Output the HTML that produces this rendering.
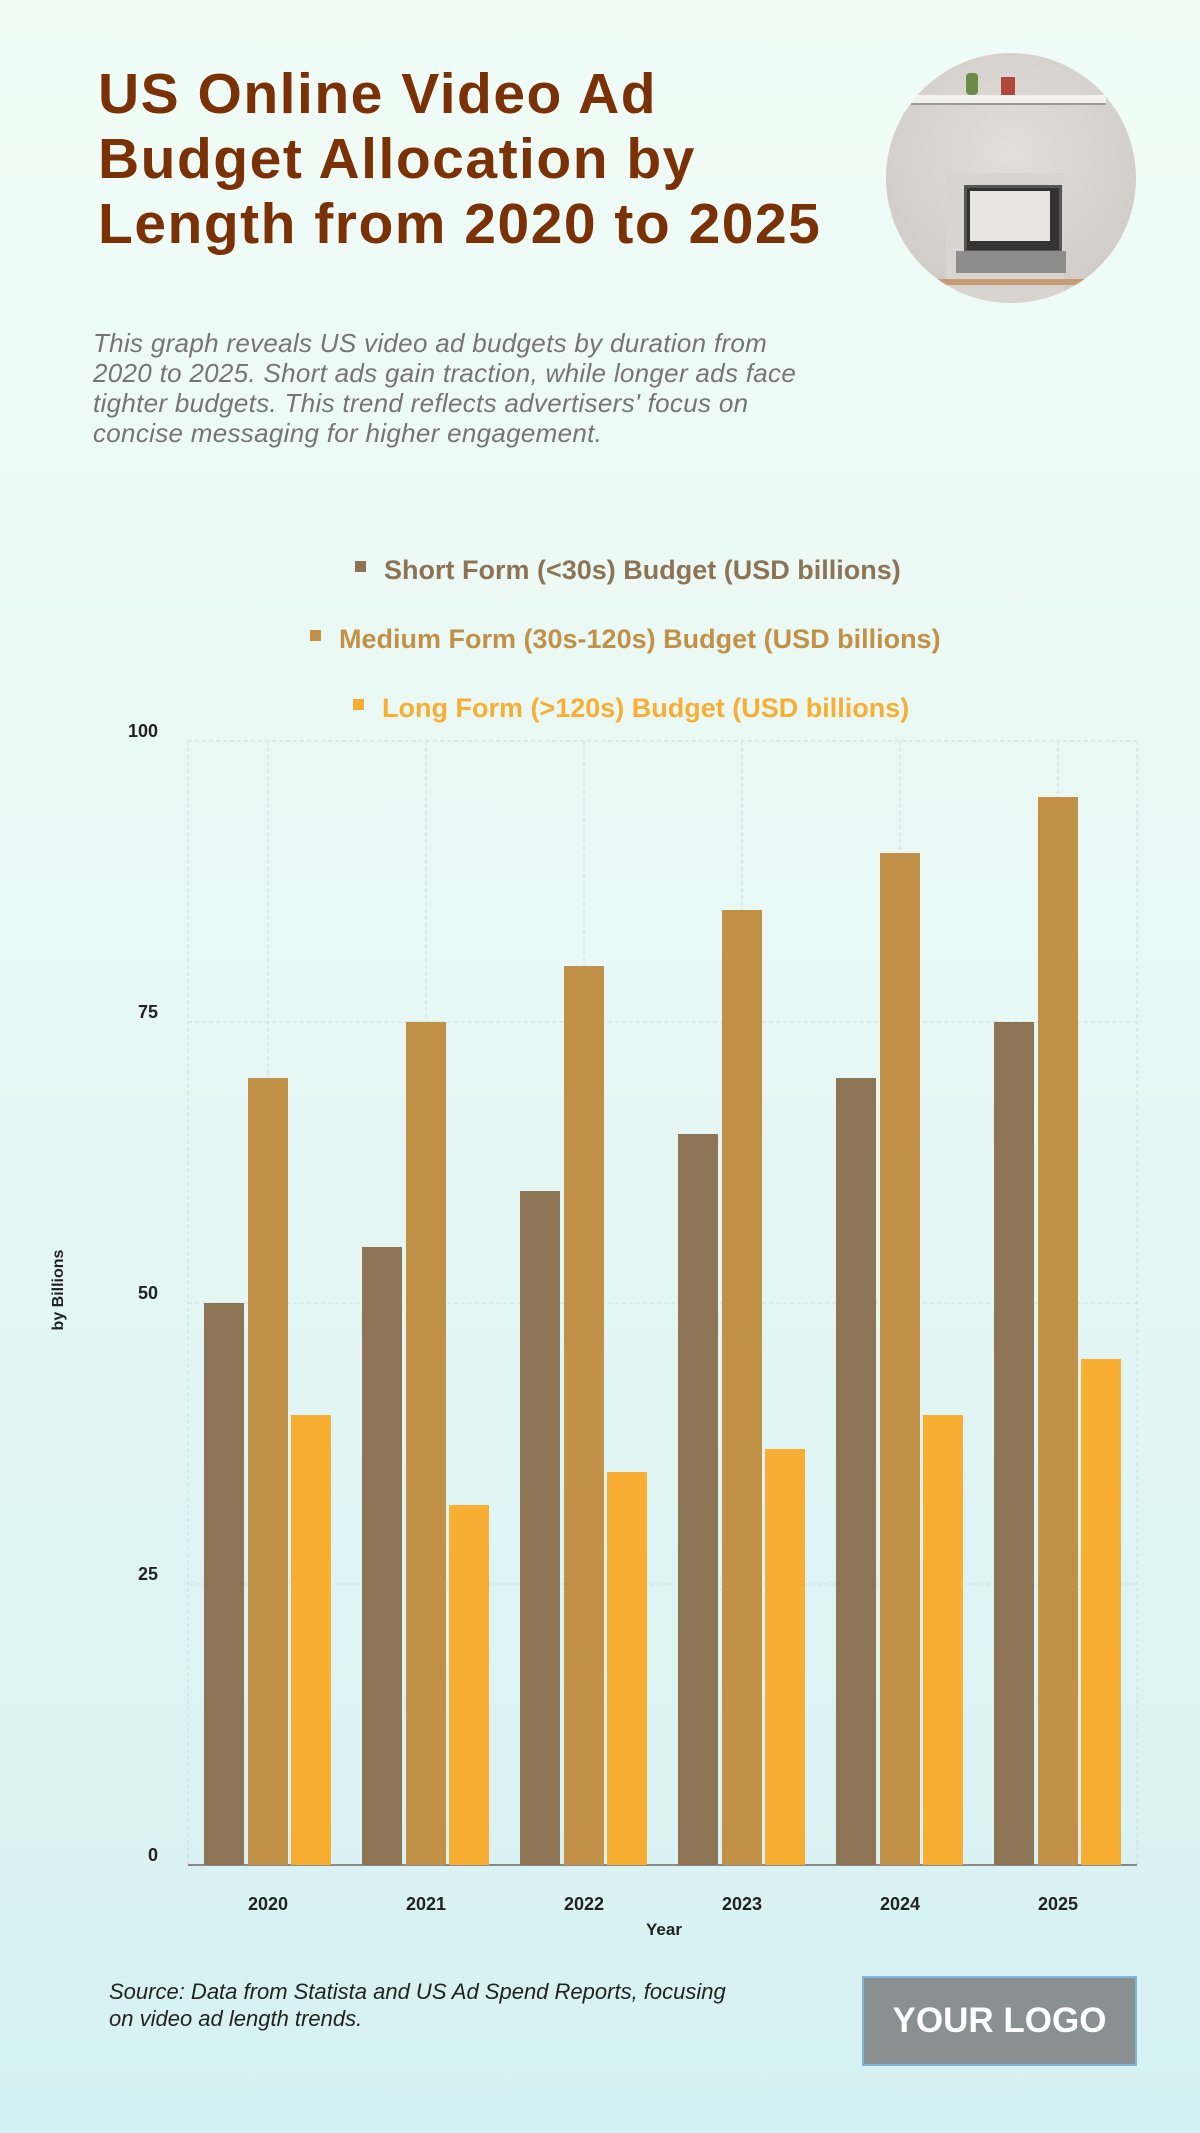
<!DOCTYPE html>
<html><head><meta charset="utf-8"><style>
html,body{margin:0;padding:0}
body{width:1200px;height:2133px;background:linear-gradient(180deg,#f1fcf7 0%,#e9f8f4 40%,#d6f1f3 100%);font-family:"Liberation Sans",sans-serif;position:relative;overflow:hidden}
.t{position:absolute;left:98px;top:62px;font-size:57px;font-weight:bold;line-height:65px;color:#7a3106;margin:0;width:900px;letter-spacing:1.5px}
.s{position:absolute;left:93px;top:328px;font-size:26px;font-style:italic;color:#757575;line-height:30px;width:900px;letter-spacing:0.3px}
.c{position:absolute;left:886px;top:53px;width:250px;height:250px;border-radius:50%;background:radial-gradient(circle at 50% 40%,#e2dfdb,#cbc6c0);overflow:hidden}
.src{position:absolute;left:109px;top:1978px;font-size:22px;font-style:italic;color:#222;line-height:27px}
.logo{position:absolute;left:862px;top:1976px;width:271px;height:86px;background:#8a8f8f;border:2px solid #7fb3d8;color:#fff;font-weight:bold;font-size:35px;text-align:center;line-height:86px}
</style></head><body>
<div class="t">US Online Video Ad<br>Budget Allocation by<br>Length from 2020 to 2025</div>
<div class="c">
<div style="position:absolute;left:25px;top:42px;width:195px;height:8px;background:#f3f1ee;border-bottom:2px solid #999"></div>
<div style="position:absolute;left:80px;top:20px;width:12px;height:22px;background:#6d8a4a;border-radius:4px"></div>
<div style="position:absolute;left:115px;top:24px;width:14px;height:18px;background:#b24a3b"></div>
<div style="position:absolute;left:60px;top:120px;width:118px;height:130px;background:#d8d4cf"></div>
<div style="position:absolute;left:78px;top:132px;width:92px;height:62px;background:#333;border:3px solid #555"></div>
<div style="position:absolute;left:84px;top:138px;width:80px;height:50px;background:#e8e6e3"></div>
<div style="position:absolute;left:70px;top:198px;width:110px;height:22px;background:#8c8c8c"></div>
<div style="position:absolute;left:25px;top:226px;width:200px;height:6px;background:#c79b74"></div>
</div>
<div class="s">This graph reveals US video ad budgets by duration from<br>2020 to 2025. Short ads gain traction, while longer ads face<br>tighter budgets. This trend reflects advertisers' focus on<br>concise messaging for higher engagement.</div>
<svg width="1200" height="2133" style="position:absolute;left:0;top:0" font-family="Liberation Sans, sans-serif">
<g font-size="27" font-weight="bold">
<rect x="355" y="561" width="11" height="11" fill="#8d7455"/><text x="384" y="579" fill="#8d7455">Short Form (&lt;30s) Budget (USD billions)</text>
<rect x="310" y="630" width="11" height="11" fill="#c09146"/><text x="339" y="648" fill="#c09146">Medium Form (30s-120s) Budget (USD billions)</text>
<rect x="353" y="699" width="11" height="11" fill="#f7ae33"/><text x="382" y="717" fill="#f7ae33">Long Form (&gt;120s) Budget (USD billions)</text>
</g>
<g stroke="#cfdede" stroke-dasharray="4,3" stroke-width="1">
<line x1="188" y1="741" x2="1137" y2="741"/><line x1="188" y1="1022" x2="1137" y2="1022"/><line x1="188" y1="1303" x2="1137" y2="1303"/><line x1="188" y1="1584" x2="1137" y2="1584"/>
<line x1="188" y1="741" x2="188" y2="1865"/><line x1="1137" y1="741" x2="1137" y2="1865"/>
<line x1="268" y1="741" x2="268" y2="1865"/><line x1="426" y1="741" x2="426" y2="1865"/><line x1="584" y1="741" x2="584" y2="1865"/><line x1="742" y1="741" x2="742" y2="1865"/><line x1="900" y1="741" x2="900" y2="1865"/><line x1="1058" y1="741" x2="1058" y2="1865"/>
</g>
<g font-size="18" font-weight="bold" fill="#222" text-anchor="end">
<text x="158" y="737">100</text><text x="158" y="1018">75</text><text x="158" y="1299">50</text><text x="158" y="1580">25</text><text x="158" y="1861">0</text>
</g>
<text transform="translate(63,1290) rotate(-90)" font-size="16" font-weight="bold" fill="#222" text-anchor="middle">by Billions</text>
<line x1="188" y1="1865" x2="1137" y2="1865" stroke="#888" stroke-width="2"/>
<g font-size="18" font-weight="bold" fill="#222" text-anchor="middle">
<text x="268" y="1910">2020</text><text x="426" y="1910">2021</text><text x="584" y="1910">2022</text><text x="742" y="1910">2023</text><text x="900" y="1910">2024</text><text x="1058" y="1910">2025</text>
<text x="664" y="1935" font-size="17">Year</text>
</g>
<g>
<rect x="204" y="1303" width="40" height="562" fill="#8d7455"/><rect x="248" y="1078" width="40" height="787" fill="#c09146"/><rect x="291" y="1415" width="40" height="450" fill="#f7ae33"/>
<rect x="362" y="1247" width="40" height="618" fill="#8d7455"/><rect x="406" y="1022" width="40" height="843" fill="#c09146"/><rect x="449" y="1505" width="40" height="360" fill="#f7ae33"/>
<rect x="520" y="1191" width="40" height="674" fill="#8d7455"/><rect x="564" y="966" width="40" height="899" fill="#c09146"/><rect x="607" y="1472" width="40" height="393" fill="#f7ae33"/>
<rect x="678" y="1134" width="40" height="731" fill="#8d7455"/><rect x="722" y="910" width="40" height="955" fill="#c09146"/><rect x="765" y="1449" width="40" height="416" fill="#f7ae33"/>
<rect x="836" y="1078" width="40" height="787" fill="#8d7455"/><rect x="880" y="853" width="40" height="1012" fill="#c09146"/><rect x="923" y="1415" width="40" height="450" fill="#f7ae33"/>
<rect x="994" y="1022" width="40" height="843" fill="#8d7455"/><rect x="1038" y="797" width="40" height="1068" fill="#c09146"/><rect x="1081" y="1359" width="40" height="506" fill="#f7ae33"/>
</g>
</svg>
<div class="src">Source: Data from Statista and US Ad Spend Reports, focusing<br>on video ad length trends.</div>
<div class="logo">YOUR LOGO</div>
</body></html>
